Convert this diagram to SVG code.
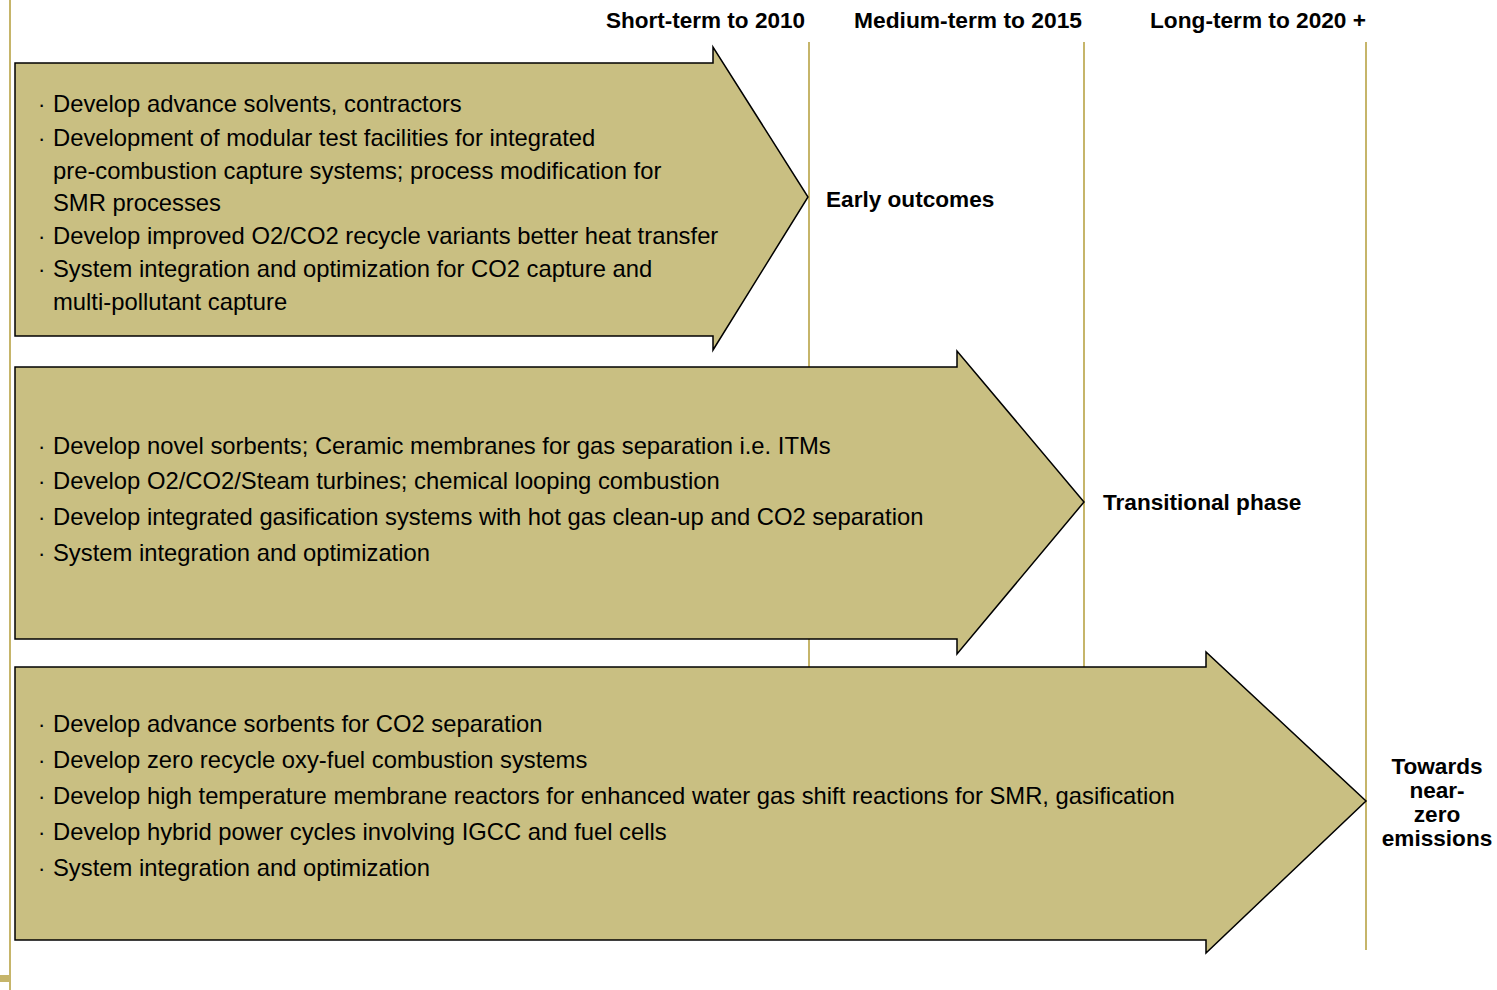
<svg xmlns="http://www.w3.org/2000/svg" width="1497" height="990" viewBox="0 0 1497 990">
<style>
.arrow{fill:#c9bf82;stroke:#000;stroke-width:1.5;stroke-linejoin:miter}
.vl{stroke:#c6b56a;stroke-width:2;fill:none}
.t{font-family:"Liberation Sans",Arial,sans-serif;font-size:23.8px;fill:#000}
.d{font-family:"Liberation Sans",Arial,sans-serif;font-size:22px;fill:#000}
.b{font-family:"Liberation Sans",Arial,sans-serif;font-size:22.6px;font-weight:bold;fill:#000}
</style>
<rect width="1497" height="990" fill="#fff"/>
<g id="frame">
<line class="vl" x1="10" y1="0" x2="10" y2="990"/>
<rect x="0" y="975" width="9" height="7" fill="#c6b56a"/>
</g>
<g id="timeline">
<line class="vl" x1="809" y1="42" x2="809" y2="667"/>
<line class="vl" x1="1084" y1="42" x2="1084" y2="667"/>
<line class="vl" x1="1366" y1="42" x2="1366" y2="950"/>
<text class="b" x="606" y="28" textLength="199" lengthAdjust="spacingAndGlyphs">Short-term to 2010</text>
<text class="b" x="854" y="28" textLength="228" lengthAdjust="spacingAndGlyphs">Medium-term to 2015</text>
<text class="b" x="1150" y="28" textLength="216" lengthAdjust="spacingAndGlyphs">Long-term to 2020 +</text>
</g>
<g id="arrow1">
<polygon class="arrow" points="15,63 713,63 713,47 808,197 713,350 713,336 15,336"/>
<text class="d" x="38" y="112">·</text><text class="t" x="53" y="112">Develop advance solvents, contractors</text>
<text class="d" x="38" y="146">·</text><text class="t" x="53" y="146">Development of modular test facilities for integrated</text>
<text class="t" x="53" y="179">pre-combustion capture systems; process modification for</text>
<text class="t" x="53" y="211">SMR processes</text>
<text class="d" x="38" y="244">·</text><text class="t" x="53" y="244">Develop improved O2/CO2 recycle variants better heat transfer</text>
<text class="d" x="38" y="277">·</text><text class="t" x="53" y="277">System integration and optimization for CO2 capture and</text>
<text class="t" x="53" y="310">multi-pollutant capture</text>
</g>
<g id="label1"><text class="b" x="826" y="207">Early outcomes</text></g>
<g id="arrow2">
<polygon class="arrow" points="15,367 957,367 957,351 1084,502 957,654 957,639 15,639"/>
<text class="d" x="38" y="454">·</text><text class="t" x="53" y="454">Develop novel sorbents; Ceramic membranes for gas separation i.e. ITMs</text>
<text class="d" x="38" y="489">·</text><text class="t" x="53" y="489">Develop O2/CO2/Steam turbines; chemical looping combustion</text>
<text class="d" x="38" y="525">·</text><text class="t" x="53" y="525">Develop integrated gasification systems with hot gas clean-up and CO2 separation</text>
<text class="d" x="38" y="561">·</text><text class="t" x="53" y="561">System integration and optimization</text>
</g>
<g id="label2"><text class="b" x="1103" y="510">Transitional phase</text></g>
<g id="arrow3">
<polygon class="arrow" points="15,667 1206,667 1206,652 1366,801 1206,953 1206,940 15,940"/>
<text class="d" x="38" y="732">·</text><text class="t" x="53" y="732">Develop advance sorbents for CO2 separation</text>
<text class="d" x="38" y="768">·</text><text class="t" x="53" y="768">Develop zero recycle oxy-fuel combustion systems</text>
<text class="d" x="38" y="804">·</text><text class="t" x="53" y="804">Develop high temperature membrane reactors for enhanced water gas shift reactions for SMR, gasification</text>
<text class="d" x="38" y="840">·</text><text class="t" x="53" y="840">Develop hybrid power cycles involving IGCC and fuel cells</text>
<text class="d" x="38" y="876">·</text><text class="t" x="53" y="876">System integration and optimization</text>
</g>
<g id="label3" text-anchor="middle">
<text class="b" x="1437" y="774">Towards</text>
<text class="b" x="1437" y="798">near-</text>
<text class="b" x="1437" y="822">zero</text>
<text class="b" x="1437" y="846">emissions</text>
</g>
</svg>
